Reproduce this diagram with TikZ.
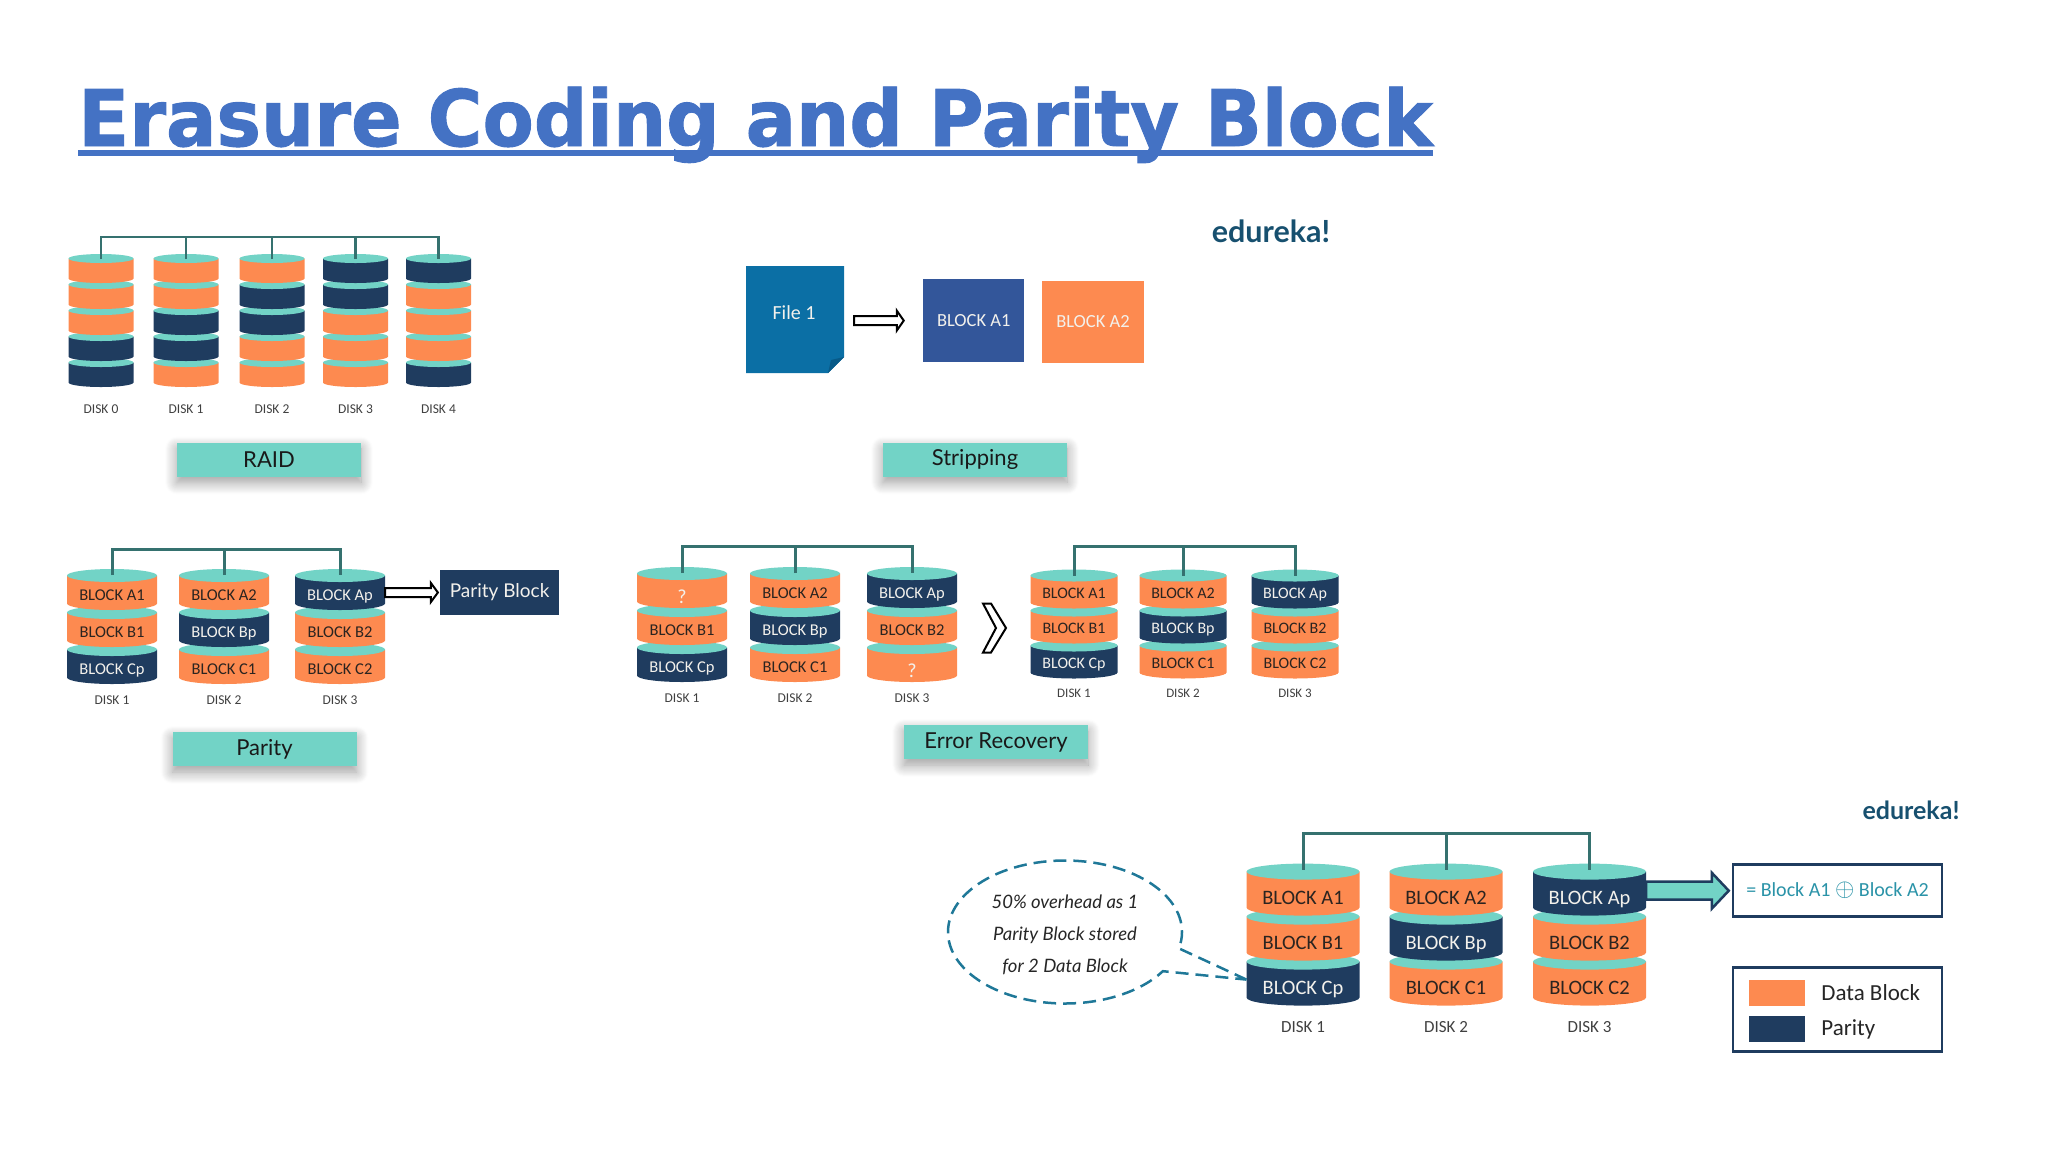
\documentclass[tikz,border=0pt]{standalone}
\usepackage{fontspec}
\usepackage{amsmath}
\setmainfont{Lato}
\newfontfamily\titlefont{DejaVu Sans}[BoldFeatures={FakeBold=1.2}]
\newfontfamily\slabfont{Carlito}
\usepackage{tikz}
\usetikzlibrary{arrows.meta,positioning,calc}
\usetikzlibrary{shapes.geometric,shapes.callouts}
\usetikzlibrary{shadows.blur}
\definecolor{capteal}{HTML}{72D3C6}
\definecolor{dataorange}{HTML}{FD8A50}
\definecolor{parnavy}{HTML}{1F3C5F}
\definecolor{busteal}{HTML}{35716F}
\definecolor{titleblue}{HTML}{4472C4}
\definecolor{brandblue}{HTML}{17506F}
\definecolor{filecol}{HTML}{0B6FA5}
\definecolor{filefold}{HTML}{085A88}
\definecolor{blockblue}{HTML}{33569A}
\definecolor{notecol}{HTML}{1F7898}
\definecolor{sumcol}{HTML}{2A93A8}
\definecolor{darktext}{HTML}{2B2420}
\definecolor{paletext}{HTML}{F3F1EC}
\colorlet{labeltext}{black!75}
\tikzset{
  slabbody/.store in=\slabbody,slabry/.store in=\slabry,slabr/.store in=\slabr,slabov/.store in=\slabov,
  slab/.style={rectangle,inner sep=0pt,outer sep=0pt,text depth=0pt,
    path picture={
      \fill[\slabbody]
        ([yshift=-\slabry]path picture bounding box.north west)
        -- ([yshift=\slabry]path picture bounding box.south west)
        arc[start angle=180,end angle=360,x radius=\slabr,y radius=\slabry]
        -- ([yshift=-\slabry]path picture bounding box.north east) -- cycle;
      \fill[capteal] ([yshift=-\slabry]path picture bounding box.north)
        ellipse[x radius=\slabr,y radius=\slabry];
    }},
  dat/.style={slabbody=dataorange,text=darktext},
  par/.style={slabbody=parnavy,text=paletext},
  raidslab/.style={slab,minimum width=65pt,minimum height=29pt,slabr=32.5pt,slabry=4.5pt,slabov=3pt},
  smallslab/.style={slab,minimum width=90pt,minimum height=41pt,slabr=45pt,slabry=6.5pt,slabov=4pt,
    text height=21.5pt,font=\slabfont\fontsize{16.5}{18}\selectfont},
  rightslab/.style={slab,minimum width=87pt,minimum height=39pt,slabr=43.5pt,slabry=6pt,slabov=4pt,
    text height=18pt,font=\slabfont\fontsize{16}{18}\selectfont},
  bigslab/.style={slab,minimum width=113pt,minimum height=52pt,slabr=56.5pt,slabry=8pt,slabov=7pt,
    text height=29pt,font=\slabfont\fontsize{20.5}{24}\selectfont},
  disklabel/.style={text=labeltext,inner sep=0pt},
  raidslablabel/.style={disklabel,font=\slabfont\fontsize{13.5}{16}\selectfont,node distance=18pt},
  smallslablabel/.style={disklabel,font=\slabfont\fontsize{13.5}{16}\selectfont,node distance=12pt},
  rightslablabel/.style={disklabel,font=\slabfont\fontsize{13}{16}\selectfont,node distance=10pt},
  bigslablabel/.style={disklabel,font=\slabfont\fontsize{17}{20}\selectfont,node distance=16pt},
  bus/.style={draw=busteal,line width=3pt},
  button/.style={fill=capteal,text=black!90,minimum width=184pt,minimum height=34pt,inner sep=0pt,
    font=\fontsize{22}{26}\selectfont,
    blur shadow={shadow xshift=0pt,shadow yshift=-6pt,shadow blur radius=12pt,shadow blur steps=12}},
  block/.style={minimum height=82.5pt,inner sep=0pt,text=paletext,
    font=\slabfont\fontsize{18.5}{22}\selectfont},
  framebox/.style={draw=parnavy,line width=2.5pt,minimum width=209pt,fill=white,inner sep=0pt},
  brand/.style={text=brandblue,inner sep=0pt},
  legendtext/.style={anchor=west,inner sep=0pt,font=\slabfont\fontsize{23}{26}\selectfont,text=black!85},
  blockarrow/.style n args={3}{to path={
    let \p1=(\tikztostart),\p2=(\tikztotarget) in
    (\x1,\y2+#1) -- (\x2-#3,\y2+#1) -- (\x2-#3,\y2+#2) -- (\x2,\y2)
    -- (\x2-#3,\y2-#2) -- (\x2-#3,\y2-#1) -- (\x1,\y2-#1) -- cycle}}
}
% prefix, slab style, y of lowest slab, three x, top left text, lower right text, bus y
\newcommand{\threestack}[9]{
  \node[#2,par] (#1ac) at (#4,#3) {BLOCK Cp};
  \node[#2,dat,above=-\slabov of #1ac] (#1ab) {BLOCK B1};
  \node[#2,dat,above=-\slabov of #1ab] (#1aa) {#7};
  \node[#2,dat] (#1bc) at (#5,#3) {BLOCK C1};
  \node[#2,par,above=-\slabov of #1bc] (#1bb) {BLOCK Bp};
  \node[#2,dat,above=-\slabov of #1bb] (#1ba) {BLOCK A2};
  \node[#2,dat] (#1cc) at (#6,#3) {#8};
  \node[#2,dat,above=-\slabov of #1cc] (#1cb) {BLOCK B2};
  \node[#2,par,above=-\slabov of #1cb] (#1ca) {BLOCK Ap};
  \node[#2label,below=of #1ac] {DISK 1};
  \node[#2label,below=of #1bc] {DISK 2};
  \node[#2label,below=of #1cc] {DISK 3};
  \coordinate (#1bus) at (#5,#9);
  \draw[bus] ([yshift=-6pt]#1aa.north) |- (#1bus) -| ([yshift=-6pt]#1ca.north);
  \draw[bus] ([yshift=-6pt]#1ba.north) -- (#1bus);
}
\newcommand{\lostblock}{\raisebox{-5pt}{\color{paletext}\fontsize{20}{22}\selectfont ?}}
\begin{document}
\begin{tikzpicture}[x=1pt,y=-1pt]
  \useasboundingbox (0,0) rectangle (2048,1152);

  % title
  \node[anchor=base west,inner sep=0pt,text=titleblue,font=\titlefont\bfseries\fontsize{78}{90}\selectfont]
    (title) at (78,146) {\scalebox{.958}[1]{Erasure Coding and Parity Block}};
  \draw[titleblue,line width=6pt] ([yshift=-7pt]title.base west) -- ([yshift=-7pt]title.base east);

  % raid
  \foreach \n/\x/\a/\b/\c/\d/\e in {0/101/dat/dat/dat/par/par,1/186/dat/dat/par/par/dat,
      2/272/dat/par/par/dat/dat,3/355.5/par/par/dat/dat/dat,4/438.5/par/dat/dat/dat/par}{
    \node[raidslab,\e] (raid\n e) at (\x,372.5) {};
    \node[raidslab,\d,above=-3pt of raid\n e] (raid\n d) {};
    \node[raidslab,\c,above=-3pt of raid\n d] (raid\n c) {};
    \node[raidslab,\b,above=-3pt of raid\n c] (raid\n b) {};
    \node[raidslab,\a,above=-3pt of raid\n b] (raid\n a) {};
    \node[raidslablabel,below=of raid\n e] {DISK \n};
  }
  \coordinate (raidbus) at (272,237);
  \draw[bus,line width=2.5pt] ([yshift=-5pt]raid0a.north) |- (raidbus) -| ([yshift=-5pt]raid4a.north);
  \foreach \n in {1,2,3}{
    \draw[bus,line width=2.5pt] ([yshift=-5pt]raid\n a.north) -- (raid\n a.north |- raidbus);
  }
  \node[button] (raid) at (269,459.5) {RAID};

  % stripping
  \fill[filecol] (746,266) -- (844,266) -- (844,357) -- (828,373) -- (746,373) -- cycle;
  \fill[filefold] (844,357) -- (828,373) -- (831,360) -- cycle;
  \node[minimum width=98pt,minimum height=107pt,inner sep=0pt] (file) at (795,319.5) {};
  \node[text=paletext,font=\slabfont\fontsize{20}{22}\selectfont] (filename) at (794,313) {File 1};
  \node[block,fill=blockblue,minimum width=100.5pt] (blocka) at (973.7,320.6) {BLOCK A1};
  \node[block,fill=dataorange,minimum width=102pt] (blockb) at (1093,322) {BLOCK A2};
  \draw[blockarrow={4.5pt}{10pt}{7pt},draw=black,fill=white,line width=2pt]
    ([xshift=10pt]file.east) to ([xshift=-19.5pt]blocka.west);
  \node[button] (strip) at (975,459.5) {Stripping};
  \node[brand,font=\bfseries\fontsize{30.5}{34}\selectfont] (brandtop) at (1271,231) {edureka!};

  % parity
  \threestack{p}{smallslab}{663.5}{112}{224}{340}{BLOCK A1}{BLOCK C2}{549.5}
  \node[fill=parnavy,text=paletext,minimum width=119pt,minimum height=45pt,inner sep=0pt,
    font=\fontsize{19}{22}\selectfont] (pblock) at (499.6,592.5) {Parity Block};
  \draw[blockarrow={4.5pt}{9.5pt}{7pt},draw=black,fill=white,line width=2pt]
    (pca.east) to ([xshift=-2pt]pblock.west);
  \node[button] (parity) at (264.5,749) {Parity};

  % error recovery
  \threestack{e}{smallslab}{661.5}{682}{795}{912}{\lostblock}{\lostblock}{546}
  \threestack{f}{rightslab}{659}{1074}{1183}{1295}{BLOCK A1}{BLOCK C2}{546}
  \draw[draw=black,fill=white,line width=2pt] (983,603.5) -- (991,603.5) -- (1006,628) -- (991,652.5)
    -- (983,652.5) -- (996,628) -- cycle;
  \node[button] (recovery) at (996,742) {Error Recovery};

  % parity with note
  \threestack{g}{bigslab}{979.6}{1303}{1446}{1589.5}{BLOCK A1}{BLOCK C2}{833.5}
  \node[framebox,minimum height=52pt,text=sumcol,font=\slabfont\fontsize{20}{24}\selectfont] (xorbox) at (1837.5,890.7)
    {= Block A1 \scalebox{1.2}{$\oplus$} Block A2};
  \draw[blockarrow={9pt}{18pt}{17pt},draw=parnavy,fill=capteal,line width=2.5pt]
    (gca.east) to ([xshift=-3pt]xorbox.west);
  \node[
    ellipse callout,draw=notecol,dashed,dash pattern=on 13pt off 7pt,line width=2.5pt,
    minimum width=234pt,minimum height=143pt,inner sep=0pt,align=center,
    callout absolute pointer={(gac.west)},callout pointer arc=20,
    font=\itshape\fontsize{18.5}{32}\selectfont,text=black!85
  ] (note) at (1065,932) {\rule{0pt}{19pt}50\% overhead as 1\\Parity Block stored\\for 2 Data Block};
  \node[brand,font=\bfseries\fontsize{25}{30}\selectfont] (brandbot) at (1911,810) {edureka!};

  \node[framebox,minimum height=84pt] (legend) at (1837.5,1009.7) {};
  \node[fill=dataorange,minimum width=56pt,minimum height=26pt,inner sep=0pt] (legenddata) at (1777,992.5) {};
  \node[fill=parnavy,minimum width=56pt,minimum height=26pt,inner sep=0pt] (legendpar) at (1777,1029) {};
  \node[legendtext,right=16pt of legenddata] (legenddatatext) {Data Block};
  \node[legendtext,right=16pt of legendpar] (legendpartext) {Parity};
\end{tikzpicture}
\end{document}
